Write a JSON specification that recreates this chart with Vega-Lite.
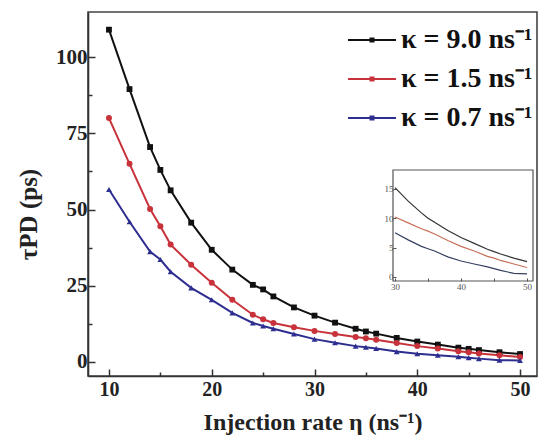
{
  "$schema": "https://vega.github.io/schema/vega-lite/v6.json",
  "width": 449,
  "height": 364,
  "autosize": {"type": "none"},
  "padding": {"left": 88, "top": 12, "right": 2, "bottom": 64},
  "background": "white",
  "config": {
    "view": {"stroke": "#444", "strokeWidth": 1.6},
    "font": "Liberation Serif"
  },
  "datasets": {
    "main": [
      {"eta": 10, "tau": 109.0, "kappa": "k9"},
      {"eta": 12, "tau": 89.5, "kappa": "k9"},
      {"eta": 14, "tau": 70.5, "kappa": "k9"},
      {"eta": 15, "tau": 63.0, "kappa": "k9"},
      {"eta": 16, "tau": 56.3, "kappa": "k9"},
      {"eta": 18, "tau": 45.7, "kappa": "k9"},
      {"eta": 20, "tau": 36.8, "kappa": "k9"},
      {"eta": 22, "tau": 30.3, "kappa": "k9"},
      {"eta": 24, "tau": 25.3, "kappa": "k9"},
      {"eta": 25, "tau": 23.8, "kappa": "k9"},
      {"eta": 26, "tau": 21.5, "kappa": "k9"},
      {"eta": 28, "tau": 17.9, "kappa": "k9"},
      {"eta": 30, "tau": 15.2, "kappa": "k9"},
      {"eta": 32, "tau": 12.9, "kappa": "k9"},
      {"eta": 34, "tau": 10.9, "kappa": "k9"},
      {"eta": 35, "tau": 10.0, "kappa": "k9"},
      {"eta": 36, "tau": 9.3, "kappa": "k9"},
      {"eta": 38, "tau": 7.9, "kappa": "k9"},
      {"eta": 40, "tau": 6.7, "kappa": "k9"},
      {"eta": 42, "tau": 5.7, "kappa": "k9"},
      {"eta": 44, "tau": 4.7, "kappa": "k9"},
      {"eta": 45, "tau": 4.3, "kappa": "k9"},
      {"eta": 46, "tau": 3.9, "kappa": "k9"},
      {"eta": 48, "tau": 3.2, "kappa": "k9"},
      {"eta": 50, "tau": 2.6, "kappa": "k9"},
      {"eta": 10, "tau": 80.0, "kappa": "k15"},
      {"eta": 12, "tau": 65.0, "kappa": "k15"},
      {"eta": 14, "tau": 50.2, "kappa": "k15"},
      {"eta": 15, "tau": 44.5, "kappa": "k15"},
      {"eta": 16, "tau": 38.5, "kappa": "k15"},
      {"eta": 18, "tau": 31.9, "kappa": "k15"},
      {"eta": 20, "tau": 26.0, "kappa": "k15"},
      {"eta": 22, "tau": 20.4, "kappa": "k15"},
      {"eta": 24, "tau": 15.5, "kappa": "k15"},
      {"eta": 25, "tau": 14.0, "kappa": "k15"},
      {"eta": 26, "tau": 12.8, "kappa": "k15"},
      {"eta": 28, "tau": 11.4, "kappa": "k15"},
      {"eta": 30, "tau": 10.2, "kappa": "k15"},
      {"eta": 32, "tau": 9.2, "kappa": "k15"},
      {"eta": 34, "tau": 8.2, "kappa": "k15"},
      {"eta": 35, "tau": 7.8, "kappa": "k15"},
      {"eta": 36, "tau": 7.3, "kappa": "k15"},
      {"eta": 38, "tau": 6.2, "kappa": "k15"},
      {"eta": 40, "tau": 5.2, "kappa": "k15"},
      {"eta": 42, "tau": 4.4, "kappa": "k15"},
      {"eta": 44, "tau": 3.5, "kappa": "k15"},
      {"eta": 45, "tau": 3.2, "kappa": "k15"},
      {"eta": 46, "tau": 2.8, "kappa": "k15"},
      {"eta": 48, "tau": 2.2, "kappa": "k15"},
      {"eta": 50, "tau": 1.6, "kappa": "k15"},
      {"eta": 10, "tau": 56.6, "kappa": "k07"},
      {"eta": 12, "tau": 46.0, "kappa": "k07"},
      {"eta": 14, "tau": 36.2, "kappa": "k07"},
      {"eta": 15, "tau": 33.6, "kappa": "k07"},
      {"eta": 16, "tau": 29.6, "kappa": "k07"},
      {"eta": 18, "tau": 24.3, "kappa": "k07"},
      {"eta": 20, "tau": 20.4, "kappa": "k07"},
      {"eta": 22, "tau": 16.1, "kappa": "k07"},
      {"eta": 24, "tau": 12.8, "kappa": "k07"},
      {"eta": 25, "tau": 11.8, "kappa": "k07"},
      {"eta": 26, "tau": 10.9, "kappa": "k07"},
      {"eta": 28, "tau": 9.2, "kappa": "k07"},
      {"eta": 30, "tau": 7.5, "kappa": "k07"},
      {"eta": 32, "tau": 6.3, "kappa": "k07"},
      {"eta": 34, "tau": 5.2, "kappa": "k07"},
      {"eta": 35, "tau": 4.8, "kappa": "k07"},
      {"eta": 36, "tau": 4.4, "kappa": "k07"},
      {"eta": 38, "tau": 3.4, "kappa": "k07"},
      {"eta": 40, "tau": 2.7, "kappa": "k07"},
      {"eta": 42, "tau": 2.2, "kappa": "k07"},
      {"eta": 44, "tau": 1.7, "kappa": "k07"},
      {"eta": 45, "tau": 1.4, "kappa": "k07"},
      {"eta": 46, "tau": 1.1, "kappa": "k07"},
      {"eta": 48, "tau": 0.6, "kappa": "k07"},
      {"eta": 50, "tau": 0.5, "kappa": "k07"}
    ]
  },
  "data": {"name": "main"},
  "layer": [
    {
      "layer": [
        {
          "mark": {"type": "line", "strokeWidth": 2},
          "encoding": {
            "x": {
              "field": "eta", "type": "quantitative",
              "scale": {"domain": [7.96, 51.65], "nice": false, "zero": false},
              "axis": {
                "orient": "bottom",
                "values": [10, 15, 20, 25, 30, 35, 40, 45, 50],
                "labelExpr": "datum.value % 10 === 0 ? datum.label : ''",
                "tickSize": {"condition": {"test": "datum.value % 10 === 0", "value": -7}, "value": -4},
                "tickColor": "#333", "tickWidth": 1.5,
                "domainColor": "#333", "domainWidth": 1.6,
                "grid": false,
                "labelFont": "Liberation Serif", "labelFontWeight": "bold", "labelFontSize": 20, "labelColor": "#222",
                "labelPadding": 10,
                "title": "Injection rate η (ns⁻¹)",
                "titleFont": "Liberation Serif", "titleFontWeight": "bold", "titleFontSize": 24, "titleColor": "#222",
                "titlePadding": 11
              }
            },
            "y": {
              "field": "tau", "type": "quantitative",
              "scale": {"domain": [-4.6, 114.8], "nice": false, "zero": false},
              "axis": {
                "orient": "left",
                "values": [0, 12.5, 25, 37.5, 50, 62.5, 75, 87.5, 100],
                "labelExpr": "datum.value % 25 === 0 ? datum.label : ''",
                "tickSize": {"condition": {"test": "datum.value % 25 === 0", "value": -7}, "value": -4},
                "tickColor": "#333", "tickWidth": 1.5,
                "domainColor": "#333", "domainWidth": 1.6,
                "grid": false,
                "labelFont": "Liberation Serif", "labelFontWeight": "bold", "labelFontSize": 21, "labelColor": "#222",
                "labelPadding": 8,
                "title": "τPD  (ps)",
                "titleFont": "Liberation Serif", "titleFontWeight": "bold", "titleFontSize": 25, "titleColor": "#222",
                "titleAlign": "center", "titleBaseline": "middle",
                "titleX": -60, "titleY": 202
              }
            },
            "color": {
              "field": "kappa", "type": "nominal",
              "scale": {"domain": ["k9", "k15", "k07"], "range": ["#111111", "#c8323a", "#2e2e90"]},
              "legend": {
                "orient": "none", "legendX": 268, "legendY": 12,
                "title": null, "padding": 0,
                "labelExpr": "datum.value === 'k9' ? 'κ = 9.0 ns⁻¹' : datum.value === 'k15' ? 'κ = 1.5 ns⁻¹' : 'κ = 0.7 ns⁻¹'",
                "labelFont": "Liberation Serif", "labelFontWeight": "bold", "labelFontSize": 28, "labelColor": "#111",
                "labelOffset": 13, "rowPadding": 9,
                "symbolType": "M-1.6,0H1.6M-0.1,-0.1H0.1V0.1H-0.1Z",
                "symbolSize": 900, "symbolStrokeWidth": 2
              }
            }
          }
        },
        {
          "transform": [{"filter": "datum.kappa === 'k9'"}],
          "mark": {"type": "point", "filled": true, "size": 34, "opacity": 1, "shape": "square", "color": "#111111"},
          "encoding": {
            "x": {"field": "eta", "type": "quantitative"},
            "y": {"field": "tau", "type": "quantitative"}
          }
        },
        {
          "transform": [{"filter": "datum.kappa === 'k15'"}],
          "mark": {"type": "point", "filled": true, "size": 36, "opacity": 1, "shape": "circle", "color": "#c8323a"},
          "encoding": {
            "x": {"field": "eta", "type": "quantitative"},
            "y": {"field": "tau", "type": "quantitative"}
          }
        },
        {
          "transform": [{"filter": "datum.kappa === 'k07'"}],
          "mark": {"type": "point", "filled": true, "size": 34, "opacity": 1, "shape": "triangle-up", "color": "#2e2e90"},
          "encoding": {
            "x": {"field": "eta", "type": "quantitative"},
            "y": {"field": "tau", "type": "quantitative"}
          }
        }
      ]
    },
    {
      "layer": [
        {
          "data": {"values": [{}]},
          "mark": {"type": "rect", "fill": null, "stroke": "#555", "strokeWidth": 1.2},
          "encoding": {
            "x": {"datum": 29.7, "type": "quantitative",
              "scale": {"domain": [29.7, 50.9], "range": [305, 445], "nice": false, "zero": false},
              "axis": {
                "orient": "bottom", "offset": -95,
                "values": [30, 35, 40, 45, 50],
                "labelExpr": "datum.value % 10 === 0 ? datum.label : ''",
                "tickSize": -3, "tickColor": "#555", "domain": false, "grid": false,
                "labelFont": "Liberation Serif", "labelFontSize": 9, "labelColor": "#555", "labelPadding": 4,
                "title": null
              }
            },
            "x2": {"datum": 50.9},
            "y": {"datum": -0.7, "type": "quantitative",
              "scale": {"domain": [-0.7, 18.2], "range": [269, 158], "nice": false, "zero": false},
              "axis": {
                "orient": "left", "offset": -305,
                "values": [0, 5, 10, 15],
                "tickSize": -3, "tickColor": "#555", "domain": false, "grid": false,
                "labelFont": "Liberation Serif", "labelFontSize": 9, "labelColor": "#555", "labelPadding": 3,
                "title": null
              }
            },
            "y2": {"datum": 18.2}
          }
        },
        {
          "transform": [{"filter": "datum.eta >= 30"}],
          "mark": {"type": "line", "strokeWidth": 1.2},
          "encoding": {
            "x": {"field": "eta", "type": "quantitative"},
            "y": {"field": "tau", "type": "quantitative"},
            "color": {
              "field": "kappa", "type": "nominal",
              "scale": {"domain": ["k9", "k15", "k07"], "range": ["#333333", "#c8705a", "#334060"]},
              "legend": null
            }
          }
        }
      ]
    }
  ],
  "resolve": {
    "scale": {"x": "independent", "y": "independent", "color": "independent"},
    "axis": {"x": "independent", "y": "independent"}
  }
}
